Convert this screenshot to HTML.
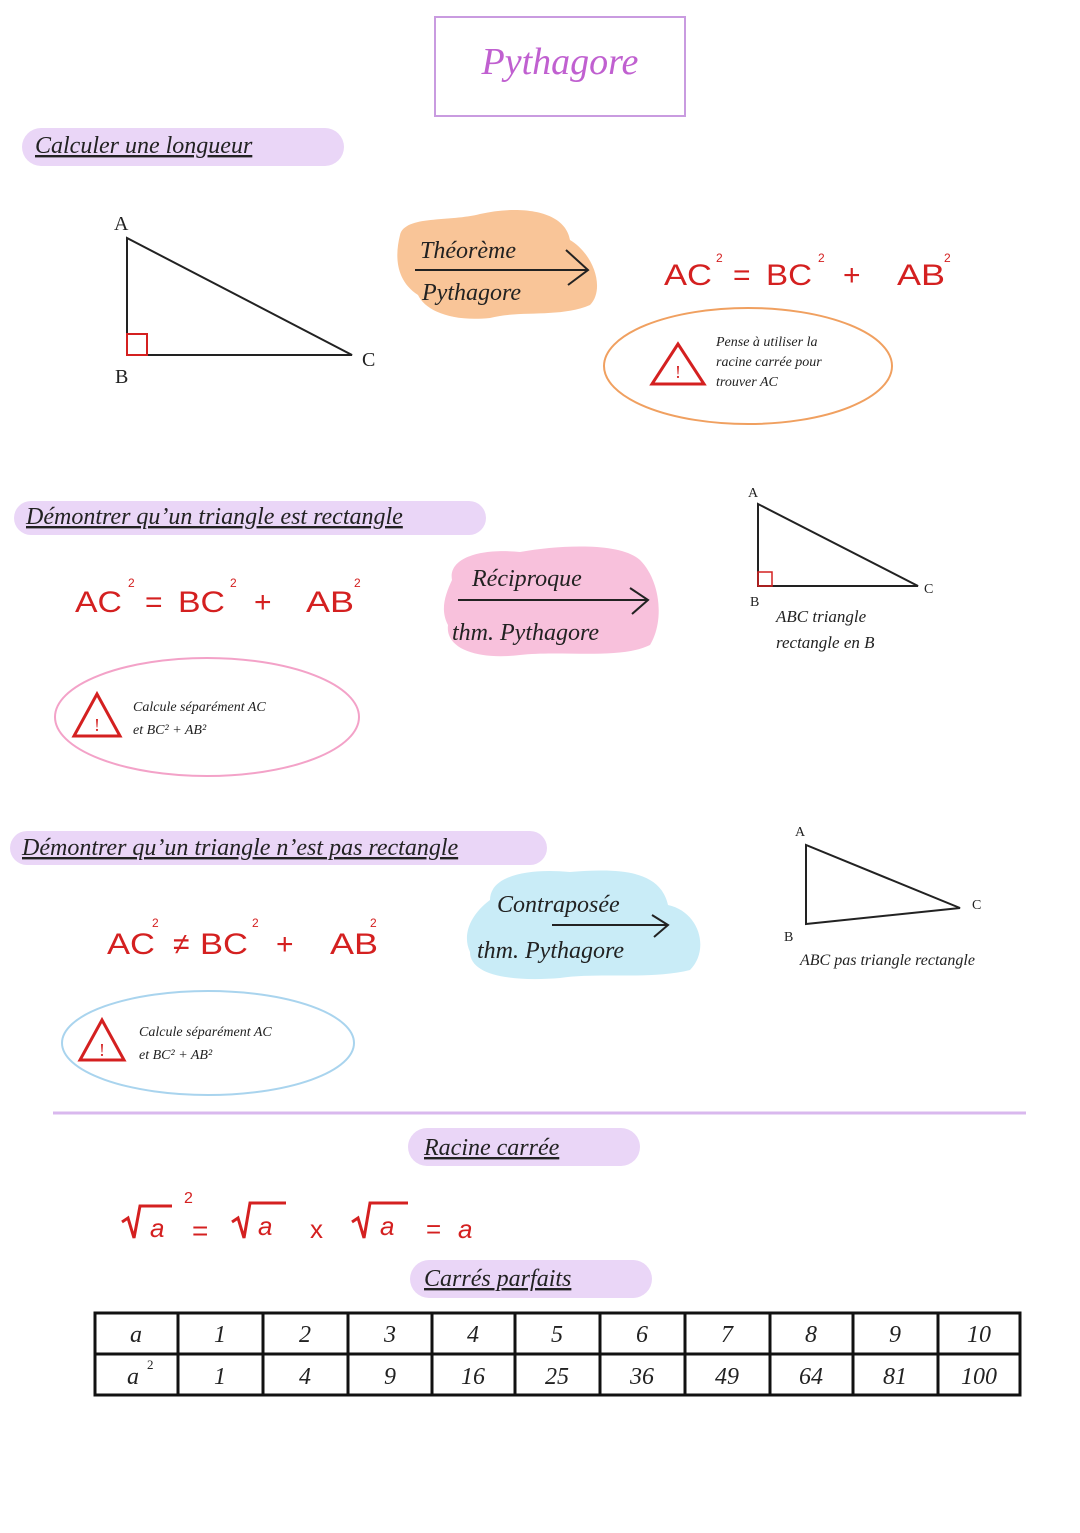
<!DOCTYPE html>
<html><head><meta charset="utf-8"><style>
html,body{margin:0;padding:0;background:#fff;}
svg{display:block;}
text{font-family:"Liberation Serif",serif;}
.h{font-size:24px;fill:#222;text-decoration:underline;font-style:italic;}
.r,.r text{fill:#d42020;font-family:"Liberation Sans",sans-serif;}
.s{font-size:14px;fill:#222;font-style:italic;}
</style></head><body>
<svg width="1080" height="1533" viewBox="0 0 1080 1533" xmlns="http://www.w3.org/2000/svg">
<rect x="435" y="17" width="250" height="99" fill="none" stroke="#c99be0" stroke-width="2"/>
<text x="560" y="74" font-size="38" fill="#c060d0" text-anchor="middle" font-style="italic">Pythagore</text>

<rect x="22" y="128" width="322" height="38" rx="19" fill="#ead6f7"/>
<text x="35" y="153" class="h">Calculer une longueur</text>
<polygon points="127,238 127,355 352,355" fill="none" stroke="#222" stroke-width="2"/>
<rect x="127" y="334" width="20" height="21" fill="none" stroke="#d42020" stroke-width="2"/>
<text x="114" y="230" font-size="20" fill="#222">A</text>
<text x="115" y="383" font-size="20" fill="#222">B</text>
<text x="362" y="366" font-size="20" fill="#222">C</text>
<path d="M400,235 C405,215 450,222 480,214 C520,205 565,210 570,240 C595,255 605,290 590,305 C560,318 520,310 490,318 C450,322 425,310 418,295 C395,280 395,255 400,235Z" fill="#f9c598"/>
<text x="420" y="258" font-size="24" fill="#222" font-style="italic">Théorème</text>
<line x1="415" y1="270" x2="588" y2="270" stroke="#222" stroke-width="2"/>
<polyline points="566,250 588,270 568,285" fill="none" stroke="#222" stroke-width="2"/>
<text x="422" y="300" font-size="24" fill="#222" font-style="italic">Pythagore</text>
<g font-size="30" class="r">
<text x="664" y="285" textLength="48" lengthAdjust="spacingAndGlyphs">AC</text><text x="733" y="285">=</text><text x="766" y="285" textLength="46" lengthAdjust="spacingAndGlyphs">BC</text><text x="843" y="285">+</text><text x="897" y="285" textLength="48" lengthAdjust="spacingAndGlyphs">AB</text>
</g>
<g font-size="12" class="r"><text x="716" y="262">2</text><text x="818" y="262">2</text><text x="944" y="262">2</text></g>
<ellipse cx="748" cy="366" rx="144" ry="58" fill="none" stroke="#f0a060" stroke-width="2"/>
<polygon points="678,344 652,384 704,384" fill="none" stroke="#d42020" stroke-width="3"/>
<text x="678" y="378" font-size="18" fill="#d42020" text-anchor="middle">!</text>
<text x="716" y="346" class="s" font-size="13">Pense à utiliser la</text>
<text x="716" y="366" class="s" font-size="13">racine carrée pour</text>
<text x="716" y="386" class="s" font-size="13">trouver AC</text>

<rect x="14" y="501" width="472" height="34" rx="17" fill="#ead6f7"/>
<text x="26" y="524" class="h" font-size="21">Démontrer qu’un triangle est rectangle</text>
<g font-size="30" class="r">
<text x="75" y="612" textLength="47" lengthAdjust="spacingAndGlyphs">AC</text><text x="145" y="612">=</text><text x="178" y="612" textLength="47" lengthAdjust="spacingAndGlyphs">BC</text><text x="254" y="612">+</text><text x="306" y="612" textLength="48" lengthAdjust="spacingAndGlyphs">AB</text>
</g>
<g font-size="12" class="r"><text x="128" y="587">2</text><text x="230" y="587">2</text><text x="354" y="587">2</text></g>
<path d="M452,580 C448,558 480,548 520,552 C560,545 620,542 640,560 C660,580 665,620 650,645 C620,660 560,650 520,655 C480,660 445,650 448,625 C440,610 445,595 452,580Z" fill="#f8c1dc"/>
<text x="472" y="586" font-size="24" fill="#222" font-style="italic">Réciproque</text>
<line x1="458" y1="600" x2="648" y2="600" stroke="#222" stroke-width="2"/>
<polyline points="630,588 648,600 632,614" fill="none" stroke="#222" stroke-width="2"/>
<text x="452" y="640" font-size="24" fill="#222" font-style="italic">thm. Pythagore</text>
<polygon points="758,504 758,586 918,586" fill="none" stroke="#222" stroke-width="2"/>
<rect x="758" y="572" width="14" height="14" fill="none" stroke="#d42020" stroke-width="1.5"/>
<text x="748" y="497" font-size="14" fill="#222">A</text>
<text x="750" y="606" font-size="14" fill="#222">B</text>
<text x="924" y="593" font-size="14" fill="#222">C</text>
<text x="776" y="622" font-size="17" fill="#222" font-style="italic">ABC triangle</text>
<text x="776" y="648" font-size="17" fill="#222" font-style="italic">rectangle en B</text>
<ellipse cx="207" cy="717" rx="152" ry="59" fill="none" stroke="#f3a2c8" stroke-width="2"/>
<polygon points="97,694 74,736 120,736" fill="none" stroke="#d42020" stroke-width="3"/>
<text x="97" y="731" font-size="18" fill="#d42020" text-anchor="middle">!</text>
<text x="133" y="711" class="s">Calcule séparément AC</text>
<text x="133" y="734" class="s">et BC² + AB²</text>

<rect x="10" y="831" width="537" height="34" rx="17" fill="#ead6f7"/>
<text x="22" y="855" class="h" font-size="21">Démontrer qu’un triangle n’est pas rectangle</text>
<g font-size="30" class="r">
<text x="107" y="954" textLength="48" lengthAdjust="spacingAndGlyphs">AC</text><text x="173" y="954">≠</text><text x="200" y="954" textLength="48" lengthAdjust="spacingAndGlyphs">BC</text><text x="276" y="954">+</text><text x="330" y="954" textLength="48" lengthAdjust="spacingAndGlyphs">AB</text>
</g>
<g font-size="12" class="r"><text x="152" y="927">2</text><text x="252" y="927">2</text><text x="370" y="927">2</text></g>
<path d="M490,900 C490,875 530,868 570,872 C620,868 660,870 668,905 C700,912 710,950 690,970 C650,980 600,972 560,978 C510,982 470,975 470,952 C462,935 470,915 490,900Z" fill="#c9ecf7"/>
<text x="497" y="912" font-size="24" fill="#222" font-style="italic">Contraposée</text>
<line x1="552" y1="925" x2="668" y2="925" stroke="#222" stroke-width="2"/>
<polyline points="652,915 668,925 654,937" fill="none" stroke="#222" stroke-width="2"/>
<text x="477" y="958" font-size="24" fill="#222" font-style="italic">thm. Pythagore</text>
<polygon points="806,845 806,924 960,908" fill="none" stroke="#222" stroke-width="2"/>
<text x="795" y="836" font-size="14" fill="#222">A</text>
<text x="784" y="941" font-size="14" fill="#222">B</text>
<text x="972" y="909" font-size="14" fill="#222">C</text>
<text x="800" y="965" font-size="16" fill="#222" font-style="italic">ABC pas triangle rectangle</text>
<ellipse cx="208" cy="1043" rx="146" ry="52" fill="none" stroke="#a9d4ee" stroke-width="2"/>
<polygon points="102,1020 80,1060 124,1060" fill="none" stroke="#d42020" stroke-width="3"/>
<text x="102" y="1056" font-size="18" fill="#d42020" text-anchor="middle">!</text>
<text x="139" y="1036" class="s">Calcule séparément AC</text>
<text x="139" y="1059" class="s">et BC² + AB²</text>

<line x1="53" y1="1113" x2="1026" y2="1113" stroke="#d9b8ee" stroke-width="3"/>

<rect x="408" y="1128" width="232" height="38" rx="19" fill="#ead6f7"/>
<text x="424" y="1155" class="h">Racine carrée</text>
<g fill="none" stroke="#d42020" stroke-width="3">
<polyline points="122,1222 128,1218 134,1238 140,1206 172,1206"/>
<polyline points="232,1222 238,1218 244,1238 250,1203 286,1203"/>
<polyline points="352,1222 358,1218 364,1238 370,1203 408,1203"/>
</g>
<g class="r">
<text x="150" y="1237" font-size="26" font-style="italic">a</text>
<text x="184" y="1203" font-size="16">2</text>
<text x="192" y="1240" font-size="28">=</text>
<text x="258" y="1235" font-size="26" font-style="italic">a</text>
<text x="310" y="1238" font-size="26">x</text>
<text x="380" y="1235" font-size="26" font-style="italic">a</text>
<text x="426" y="1238" font-size="26">=</text>
<text x="458" y="1238" font-size="26" font-style="italic">a</text>
</g>

<rect x="410" y="1260" width="242" height="38" rx="19" fill="#ead6f7"/>
<text x="424" y="1286" class="h">Carrés parfaits</text>

<g stroke="#111" stroke-width="3" fill="none">
<rect x="95" y="1313" width="925" height="82"/>
<line x1="95" y1="1354" x2="1020" y2="1354"/>
<line x1="178" y1="1313" x2="178" y2="1395"/><line x1="263" y1="1313" x2="263" y2="1395"/>
<line x1="348" y1="1313" x2="348" y2="1395"/><line x1="432" y1="1313" x2="432" y2="1395"/>
<line x1="515" y1="1313" x2="515" y2="1395"/><line x1="600" y1="1313" x2="600" y2="1395"/>
<line x1="685" y1="1313" x2="685" y2="1395"/><line x1="770" y1="1313" x2="770" y2="1395"/>
<line x1="853" y1="1313" x2="853" y2="1395"/><line x1="938" y1="1313" x2="938" y2="1395"/>
</g>
<g font-size="24" fill="#222" text-anchor="middle" font-style="italic">
<text x="136" y="1342">a</text><text x="220" y="1342">1</text><text x="305" y="1342">2</text><text x="390" y="1342">3</text><text x="473" y="1342">4</text><text x="557" y="1342">5</text><text x="642" y="1342">6</text><text x="727" y="1342">7</text><text x="811" y="1342">8</text><text x="895" y="1342">9</text><text x="979" y="1342">10</text>
<text x="133" y="1384">a</text><text x="220" y="1384">1</text><text x="305" y="1384">4</text><text x="390" y="1384">9</text><text x="473" y="1384">16</text><text x="557" y="1384">25</text><text x="642" y="1384">36</text><text x="727" y="1384">49</text><text x="811" y="1384">64</text><text x="895" y="1384">81</text><text x="979" y="1384">100</text>
</g>
<text x="147" y="1369" font-size="13" fill="#222">2</text>
</svg>
</body></html>
